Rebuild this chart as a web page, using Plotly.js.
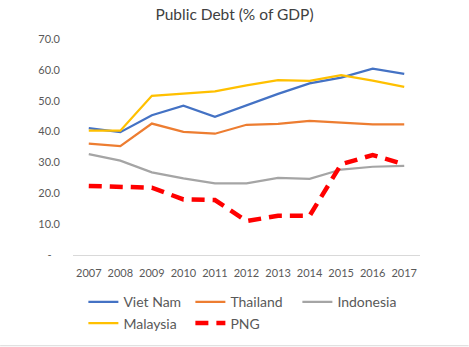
<!DOCTYPE html>
<html><head><meta charset="utf-8">
<script src="https://cdn.plot.ly/plotly-3.0.1.min.js"></script>
<style>html,body{margin:0;padding:0;background:#fff}#c{width:469px;height:347px}</style>
</head><body><div id="c"></div>
<script>
const years = ["2007","2008","2009","2010","2011","2012","2013","2014","2015","2016","2017"];
const vietNam   = [41.1, 39.8, 45.3, 48.4, 44.8, 48.5, 52.2, 55.6, 57.5, 60.4, 58.7];
const thailand  = [36.1, 35.3, 42.6, 39.9, 39.3, 42.2, 42.5, 43.5, 42.9, 42.3, 42.3];
const indonesia = [32.7, 30.6, 26.8, 24.8, 23.2, 23.2, 25.0, 24.7, 27.7, 28.6, 28.9];
const malaysia  = [40.3, 40.3, 51.6, 52.3, 53.0, 55.0, 56.7, 56.4, 58.3, 56.5, 54.5];
const png       = [22.4, 22.2, 21.8, 18.0, 17.8, 11.0, 12.7, 12.7, 29.4, 32.4, 29.4];
const yTickVals = [0, 10, 20, 30, 40, 50, 60, 70];
const yTickText = ["-   ", "10.0", "20.0", "30.0", "40.0", "50.0", "60.0", "70.0"];

const mk = (name, y, color, extra) => Object.assign({
  type: "scatter", mode: "lines", name: name, x: years, y: y,
  line: {color: color, width: 2.25}
}, extra || {});

const data = [
  mk("Viet Nam", vietNam, "#4472C4"),
  mk("Thailand", thailand, "#ED7D31"),
  mk("Indonesia", indonesia, "#A5A5A5"),
  mk("Malaysia", malaysia, "#FFC000"),
  {type: "scatter", mode: "lines", name: "PNG", x: years, y: png,
   line: {color: "#FF0000", width: 4.5, dash: "13px,8px"}}
];

const layout = {
  width: 469, height: 347,
  margin: {l: 73, r: 49, t: 39, b: 92},
  paper_bgcolor: "#fff", plot_bgcolor: "#fff",
  font: {family: "Lato, 'Open Sans', sans-serif", color: "#595959"},
  title: {text: "Public Debt (% of GDP)", x: 0.5, xref: "container", y: 0.958, yanchor: "middle",
          font: {size: 15.5, color: "#404040", family: "Lato, sans-serif"}},
  showlegend: true,
  legend: {orientation: "h", x: 0.52, xref: "container", xanchor: "center",
           y: 0.175, yref: "container", yanchor: "top",
           entrywidth: 62, entrywidthmode: "pixels",
           font: {size: 14, color: "#595959"}, tracegroupgap: 0, itemwidth: 30},
  xaxis: {type: "category", range: [-0.5, 10.5], showgrid: false, zeroline: false, showline: true,
          linecolor: "#D9D9D9", linewidth: 1, ticks: "", ticklabelstandoff: 8,
          tickfont: {size: 11, color: "#595959"}, fixedrange: true},
  yaxis: {range: [0, 70], showgrid: false, zeroline: false, showline: false,
          tickvals: yTickVals, ticktext: yTickText, ticks: "", ticklabelstandoff: 12,
          tickfont: {size: 11, color: "#595959"}, fixedrange: true},
  shapes: [{type: "line", xref: "paper", yref: "paper", x0: -0.21, x1: 1.14, y0: -0.42, y1: -0.42,
            line: {color: "#D9D9D9", width: 1}}]
};
Plotly.newPlot("c", data, layout, {displayModeBar: false, staticPlot: true});
</script></body></html>
